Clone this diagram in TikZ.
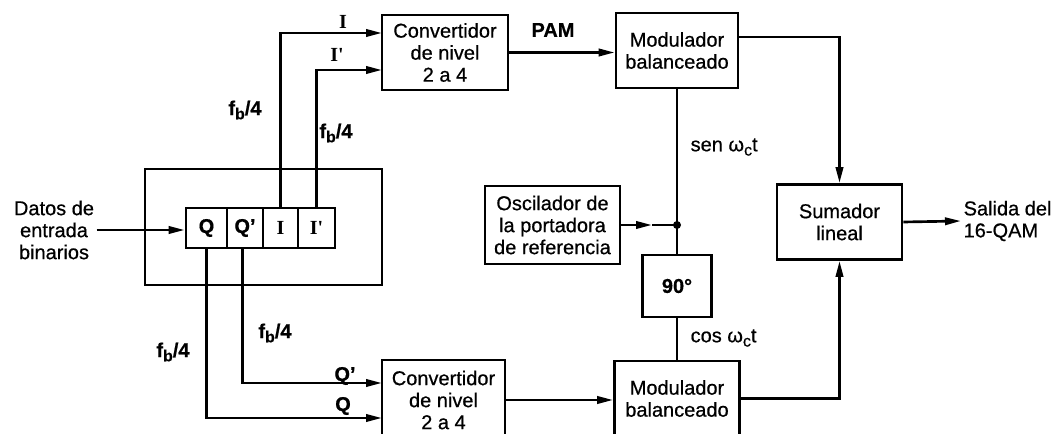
\documentclass[tikz,border=0pt]{standalone}
\usepackage{fontspec}
\setmainfont{Liberation Sans}[FakeBold=0.6]
\newfontfamily\serf{Liberation Serif}
\usetikzlibrary{arrows.meta,calc}
\newcommand{\fbq}{\bfseries f\raisebox{-0.4ex}{\fontsize{12}{12}\selectfont b}/4}
\newcommand{\wct}{ω\raisebox{-0.4ex}{\fontsize{12}{12}\selectfont c}t}
\begin{document}
\begin{tikzpicture}[x=0.75pt,y=-0.75pt, line width=2pt,
  blk/.style={draw, align=center, inner sep=0pt, font=\fontsize{15}{16.5}\selectfont},
  arr/.style={-{Triangle[length=12pt,width=5.5pt]}},
  lbl/.style={font=\fontsize{15}{16.5}\selectfont, inner sep=1pt},
  cell/.style={draw, minimum height=30pt, inner sep=0pt, font=\bfseries\fontsize{15}{16}\selectfont}]
\useasboundingbox (0,0) rectangle (1061,434);
\clip (0,0) rectangle (1061,434);

% blocks
\node[blk, minimum width=94.5pt, minimum height=56.25pt] (conv1) at (445,52.5) {Convertidor\\de nivel\\2 a 4};
\node[blk, minimum width=91.5pt, minimum height=56.25pt] (mod1) at (677,50.5) {Modulador\\balanceado};
\node[blk, minimum width=101.25pt, minimum height=58.5pt] (osc) at (552.5,225) {Oscilador de\\la portadora\\de referencia};
\node[blk, minimum width=51.75pt, minimum height=46.5pt] (ph) at (677,286) {\bfseries 90°};
\node[blk, minimum width=93.75pt, minimum height=56.25pt] (sum) at (839.5,222) {Sumador\\lineal};
\node[blk, minimum width=92.25pt, minimum height=60pt] (conv2) at (443.5,400) {Convertidor\\de nivel\\2 a 4};
\node[blk, minimum width=93.75pt, minimum height=56.25pt] (mod2) at (677,398.5) {Modulador\\balanceado};

% register
\node[draw, minimum width=177.75pt, minimum height=87pt, inner sep=0pt] (outer) at (263.5,227) {};
\node[cell, minimum width=30.75pt] (cQ) at (206.5,228) {Q};
\node[cell, minimum width=27pt] (cQp) at (245,228) {Q'};
\node[cell, minimum width=26.25pt, font=\serf\bfseries\fontsize{15}{16}\selectfont] (cI) at (280.5,228) {I};
\node[cell, minimum width=27.75pt, font=\serf\bfseries\fontsize{15}{16}\selectfont] (cIp) at (316.5,228) {I'};

% input
\node[lbl, align=center] (din) at (54,230) {Datos de\\entrada\\binarios};
\draw[arr] (din.east) -- (din.east -| cQ.west);

% register outputs
\coordinate (iI) at (382,33);
\coordinate (iIp) at (382,70);
\coordinate (iQp) at (382,383);
\coordinate (iQ) at (382,418);
\draw[arr] (cI.north) |- (iI);
\draw[arr] (cIp.north) |- (iIp);
\draw[arr] ([xshift=-2pt]cQp.south) |- (iQp);
\draw[arr] (cQ.south) |- (iQ);

% converters to modulators
\draw[arr] (conv1.east) -- (conv1.east -| mod1.west);
\draw[arr] (conv2.east) -- (conv2.east -| mod2.west);

% modulators to adder
\draw[arr] ([yshift=10pt]mod1.east) -| (sum.north);
\draw[arr] (mod2.east) -| (sum.south);

% carrier
\coordinate (dot) at (677,225);
\coordinate (dotm) at (652,225);
\draw (mod1.south) -- (ph.north);
\draw[arr] (osc.east) -- (dotm);
\draw (dotm) -- (dot);
\fill (dot) circle (3pt);
\draw (ph.south) -- (mod2.north);

% output
\node[lbl, align=left, anchor=west] (out) at (961,221) {Salida del\\16-QAM};
\draw[arr] (sum.east) -- (out.west);

% labels
\node[lbl] (lI) at (343,22) {\serf\bfseries I};
\node[lbl] (lIp) at (337,55) {\serf\bfseries I'};
\node[lbl] (lpam) at (553,30) {\bfseries PAM};
\node[lbl] (lf1) at (245,110) {\fbq};
\node[lbl] (lf2) at (336,133) {\fbq};
\node[lbl, anchor=west] (lsen) at (688,147) {sen \wct};
\node[lbl, anchor=west] (lcos) at (688,338) {cos \wct};
\node[lbl] (lf3) at (275,333) {\fbq};
\node[lbl] (lf4) at (173,352) {\fbq};
\node[lbl] (lQp) at (345,376) {\bfseries Q'};
\node[lbl] (lQ) at (343,406) {\bfseries Q};
\end{tikzpicture}
\end{document}
